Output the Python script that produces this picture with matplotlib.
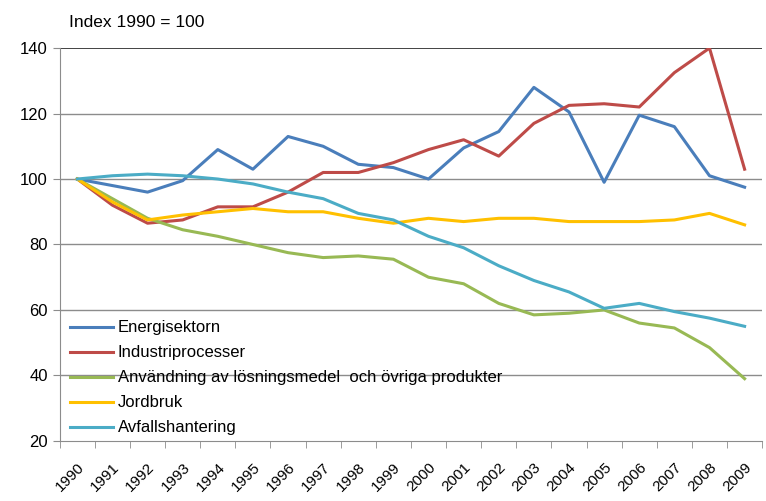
import matplotlib.pyplot as plt
import numpy as np

plt.rcParams['font.family'] = ['Liberation Sans', 'DejaVu Sans']

years = [str(y) for y in range(1990, 2010)]

energi = [100, 98, 96, 99.5, 109, 103, 113, 110, 104.5, 103.5,
          100, 109.5, 114.5, 128, 120.5, 99, 119.5, 116, 101, 97.5]
industri = [100, 92, 86.5, 87.5, 91.5, 91.5, 96, 102, 102, 105,
            109, 112, 107, 117, 122.5, 123, 122, 132.5, 140, 103]
losning = [100, 94, 88, 84.5, 82.5, 80, 77.5, 76, 76.5, 75.5,
           70, 68, 62, 58.5, 59, 60, 56, 54.5, 48.5, 39]
jordbruk = [100, 93, 87.5, 89, 90, 91, 90, 90, 88, 86.5,
            88, 87, 88, 88, 87, 87, 87, 87.5, 89.5, 86]
avfall = [100, 101, 101.5, 101, 100, 98.5, 96, 94, 89.5, 87.5,
          82.5, 79, 73.5, 69, 65.5, 60.5, 62, 59.5, 57.5, 55]

series = [
    ("Energisektorn", energi, "#4A7EBB"),
    ("Industriprocesser", industri, "#BE4B48"),
    ("Användning av lösningsmedel  och övriga produkter", losning, "#98B954"),
    ("Jordbruk", jordbruk, "#FFC000"),
    ("Avfallshantering", avfall, "#4BACC6"),
]

fig = plt.figure(figsize=(7.66, 5.01), dpi=100)
ax = fig.add_axes([0.078, 0.12, 0.917, 0.784])

x = np.arange(len(years))
for label, vals, color in series:
    ax.plot(x, vals, color=color, linewidth=2.2, label=label)

ax.set_xlim(-0.5, len(years) - 0.5)
ax.set_ylim(20, 140)
ax.set_yticks(range(20, 141, 20))
for y in range(40, 121, 20):
    ax.axhline(y, color="#8c8c8c", linewidth=1, zorder=0)
ax.axhline(140, color="#222222", linewidth=1.2, zorder=0)

ax.set_xticks(x)
ax.set_xticklabels(years, rotation=45, ha="right", rotation_mode="anchor", fontsize=11)
ax.set_xticks(np.arange(-0.5, len(years)), minor=True)
ax.tick_params(axis="x", which="major", length=0, pad=14)
ax.tick_params(axis="x", which="minor", length=5, color="#8c8c8c", direction="out")
ax.tick_params(axis="y", length=5, color="#8c8c8c", direction="out", labelsize=12)

for side in ["top", "right"]:
    ax.spines[side].set_visible(False)
for side in ["left", "bottom"]:
    ax.spines[side].set_color("#8c8c8c")

fig.text(0.09, 0.955, "Index 1990 = 100", fontsize=12.5, va="center")

ax.legend(loc="lower left", bbox_to_anchor=(-0.002, -0.016), frameon=False,
          fontsize=12, handlelength=2.6, labelspacing=0.6, handletextpad=0.25,
          borderaxespad=0.3)

fig.savefig("out.png", dpi=100)
